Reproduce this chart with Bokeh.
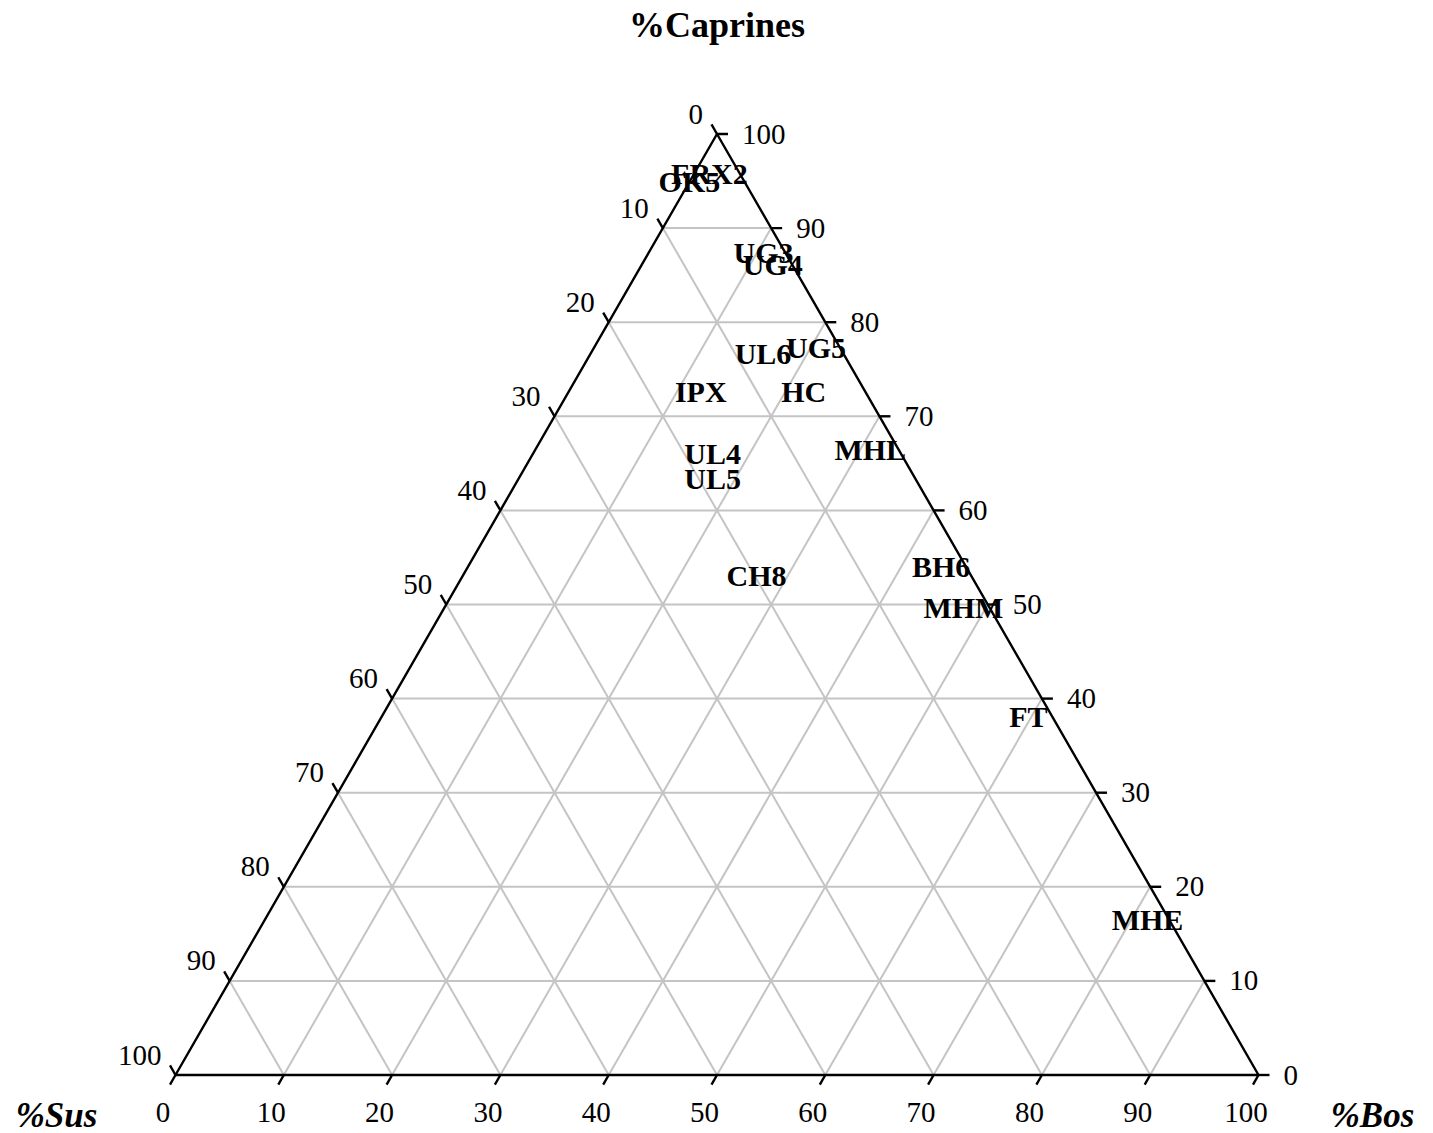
import numpy as np
from bokeh.plotting import figure
from bokeh.models import ColumnDataSource, Range1d
from bokeh.core.properties import value
from bokeh.embed import file_html
from bokeh.resources import INLINE

# Faunal composition per site (percent of Sus, Bos, Caprines)
sites = ["FRX2", "OK5", "UG3", "UG4", "UL6", "UG5", "IPX", "HC",
         "MHL", "UL4", "UL5", "CH8", "BH6", "MHM", "FT", "MHE"]
sus = [2.8, 5.1, 2.0, 1.8, 7.4, 2.2, 15.2, 5.7,
       2.6, 17.4, 18.7, 19.8, 2.3, 2.4, 2.2, 2.0]
bos = [1.4, 0.0, 10.6, 12.1, 15.9, 20.5, 12.2, 21.7,
       30.9, 16.6, 17.9, 27.1, 43.7, 47.9, 59.7, 81.5]
caprines = [95.8, 94.9, 87.4, 86.1, 76.7, 77.3, 72.6, 72.6,
            66.5, 66.0, 63.4, 53.1, 54.0, 49.7, 38.1, 16.5]

tick_values = list(range(0, 101, 10))
grid_values = list(range(10, 100, 10))

H = np.sqrt(3) / 2
SERIF = value("Liberation Serif")


def tern(s, b, c):
    """Ternary (Sus, Bos, Caprines) -> cartesian; Sus at left, Bos at right, Caprines on top."""
    s = np.asarray(s, float)
    b = np.asarray(b, float)
    c = np.asarray(c, float)
    tot = s + b + c
    b = b / tot * 100
    c = c / tot * 100
    return b + c / 2, c * H


# page geometry (pixels)
W, HT = 1433, 1133
left_px, base_px, side_px = 175.0, 1074.5, 1083.0
apex_h_px = 941.0
sx = side_px / 100.0
sy = apex_h_px / (100 * H)

p = figure(width=W, height=HT, output_backend="svg", toolbar_location=None,
           x_range=Range1d(-left_px / sx, (W - left_px) / sx),
           y_range=Range1d(-(HT - base_px) / sy, base_px / sy),
           x_axis_location=None, y_axis_location=None, min_border=0)
p.grid.visible = False
p.outline_line_color = None
p.background_fill_color = "white"
p.border_fill_color = "white"

# interior grid
gx, gy = [], []
for k in grid_values:
    r = 100 - k
    # constant Caprines
    x0, y0 = tern(r, 0, k)
    x1, y1 = tern(0, r, k)
    gx.append([float(x0), float(x1)]); gy.append([float(y0), float(y1)])
    # constant Bos
    x0, y0 = tern(r, k, 0)
    x1, y1 = tern(0, k, r)
    gx.append([float(x0), float(x1)]); gy.append([float(y0), float(y1)])
    # constant Sus
    x0, y0 = tern(k, r, 0)
    x1, y1 = tern(k, 0, r)
    gx.append([float(x0), float(x1)]); gy.append([float(y0), float(y1)])
p.multi_line(gx, gy, line_color="#c4c4c4", line_width=2.0)

# triangle frame
vx, vy = tern([100, 0, 0, 100], [0, 100, 0, 0], [0, 0, 100, 0])
p.line(vx, vy, line_color="black", line_width=2.4)

tv = np.array(tick_values, float)
L = 11.0 / sx

# Sus axis (left side)
lx, ly = tern(tv, 0 * tv, 100 - tv)
p.segment(lx, ly, lx - 0.5 * L, ly + H * L, line_color="black", line_width=2.4)
p.text(lx, ly, text=[str(v) for v in tick_values], text_font=SERIF,
       text_font_size="29px", text_color="black", text_align="right",
       text_baseline="middle", x_offset=-14, y_offset=-20)

# Bos axis (bottom)
bx, by = tern(100 - tv, tv, 0 * tv)
p.segment(bx, by, bx - 0.5 * L, by - H * L, line_color="black", line_width=2.4)
p.text(bx, by, text=[str(v) for v in tick_values], text_font=SERIF,
       text_font_size="29px", text_color="black", text_align="center",
       text_baseline="middle", x_offset=-12.5, y_offset=37)

# Caprines axis (right side)
rx, ry = tern(0 * tv, 100 - tv, tv)
p.segment(rx, ry, rx + L, ry, line_color="black", line_width=2.4)
p.text(rx, ry, text=[str(v) for v in tick_values], text_font=SERIF,
       text_font_size="29px", text_color="black", text_align="left",
       text_baseline="middle", x_offset=25, y_offset=0)

# axis titles at the vertices
ax_, ay_ = tern([0], [0], [100])
p.text(ax_, ay_, text=["%Caprines"], text_font=SERIF, text_font_style="bold",
       text_font_size="36px", text_align="center", text_baseline="middle",
       y_offset=-109)
sx_, sy_ = tern([100], [0], [0])
p.text(sx_, sy_, text=["%Sus"], text_font=SERIF, text_font_style="bold italic",
       text_font_size="35px", text_align="center", text_baseline="middle",
       x_offset=-119, y_offset=40)
bx_, by_ = tern([0], [100], [0])
p.text(bx_, by_, text=["%Bos"], text_font=SERIF, text_font_style="bold italic",
       text_font_size="35px", text_align="center", text_baseline="middle",
       x_offset=114, y_offset=40)

# site labels
px, py = tern(sus, bos, caprines)
src = ColumnDataSource(dict(x=px, y=py, site=sites))
p.text("x", "y", text="site", source=src, text_font=SERIF,
       text_font_style="bold", text_font_size="30px", text_color="black",
       text_align="center", text_baseline="middle")

open("out.html", "w").write(file_html(p, INLINE))
